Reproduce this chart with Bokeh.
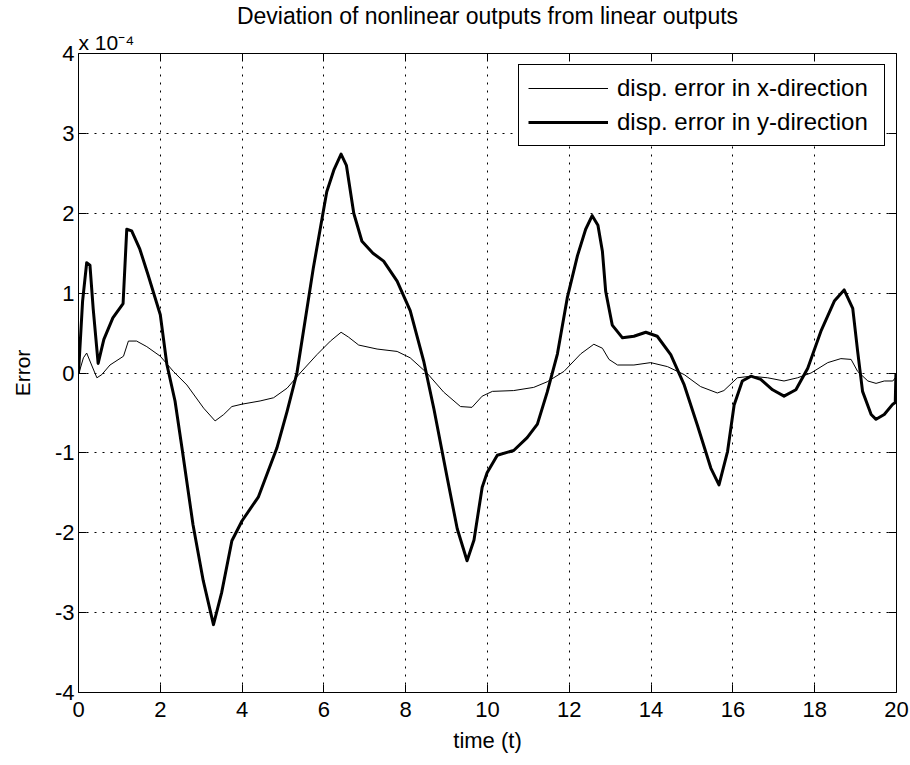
from bokeh.plotting import figure
from bokeh.models import LinearAxis, FixedTicker, Legend, LegendItem, Range1d, Title
from bokeh.embed import file_html
from bokeh.resources import INLINE

# values in units of 1e-4
t_y = [0, 0.1, 0.2, 0.28, 0.36, 0.48, 0.62, 0.84, 1.09, 1.18, 1.30, 1.50, 1.70, 2.0, 2.16, 2.36, 2.53,
       2.8, 3.05, 3.3, 3.5, 3.75, 4.0, 4.4, 4.85, 5.1, 5.34, 5.74, 6.07, 6.25, 6.42, 6.55, 6.73, 6.93,
       7.2, 7.46, 7.79, 8.11, 8.44, 8.69, 9.01, 9.26, 9.5, 9.67, 9.87, 9.99, 10.24, 10.64, 10.97, 11.22,
       11.46, 11.71, 11.95, 12.20, 12.40, 12.56, 12.70, 12.81, 12.89, 13.05, 13.30, 13.58, 13.87, 14.15,
       14.48, 14.81, 15.13, 15.46, 15.66, 15.87, 16.03, 16.23, 16.44, 16.68, 16.97, 17.25, 17.54, 17.83,
       18.15, 18.48, 18.72, 18.93, 19.05, 19.17, 19.38, 19.50, 19.70, 19.91, 19.97, 19.985, 20.0]
err_y = [0.0, 0.9, 1.38, 1.35, 0.8, 0.12, 0.42, 0.69, 0.87, 1.80, 1.78, 1.55, 1.23, 0.73, 0.11, -0.35, -0.94,
         -1.9, -2.6, -3.15, -2.75, -2.1, -1.85, -1.55, -0.94, -0.48, 0.0, 1.31, 2.27, 2.55, 2.74, 2.6, 2.0, 1.65,
         1.5, 1.40, 1.15, 0.78, 0.15, -0.45, -1.3, -1.95, -2.35, -2.09, -1.43, -1.25, -1.03, -0.97, -0.81, -0.64,
         -0.24, 0.24, 0.94, 1.47, 1.80, 1.97, 1.85, 1.52, 1.02, 0.60, 0.44, 0.46, 0.51, 0.46,
         0.23, -0.15, -0.65, -1.19, -1.40, -0.98, -0.40, -0.10, -0.04, -0.08, -0.21, -0.29, -0.21, 0.06,
         0.52, 0.90, 1.04, 0.81, 0.27, -0.23, -0.52, -0.58, -0.52, -0.39, -0.37, -0.02, -0.25]

t_x = [0, 0.12, 0.2, 0.32, 0.45, 0.57, 0.77, 1.10, 1.22, 1.42, 1.67, 2.0, 2.32, 2.65, 3.06, 3.34, 3.55, 3.75,
       4.0, 4.44, 4.77, 5.10, 5.42, 5.83, 6.16, 6.42, 6.6, 6.85, 7.30, 7.79, 8.11, 8.52, 8.93, 9.34, 9.62,
       9.87, 10.12, 10.64, 11.13, 11.46, 11.87, 12.28, 12.60, 12.81, 12.97, 13.18, 13.58, 13.99, 14.40,
       14.81, 15.21, 15.62, 15.78, 16.11, 16.44, 16.85, 17.25, 17.58, 17.91, 18.32, 18.64, 18.89, 19.05,
       19.30, 19.50, 19.70, 19.91, 20.0]
err_x = [-0.02, 0.19, 0.25, 0.10, -0.06, -0.02, 0.10, 0.21, 0.40, 0.40, 0.33, 0.21, 0.02, -0.15, -0.44, -0.60,
         -0.52, -0.42, -0.39, -0.35, -0.31, -0.19, 0.0, 0.23, 0.40, 0.51, 0.45, 0.35, 0.30, 0.27, 0.19, 0.0,
         -0.24, -0.42, -0.43, -0.29, -0.23, -0.22, -0.18, -0.11, 0.02, 0.24, 0.36, 0.31, 0.17, 0.10, 0.10,
         0.13, 0.08, -0.02, -0.17, -0.25, -0.22, -0.06, -0.04, -0.06, -0.10, -0.06, 0.0, 0.13, 0.18, 0.17,
         0.02, -0.10, -0.13, -0.10, -0.10, -0.04]

x_ticks = [0, 2, 4, 6, 8, 10, 12, 14, 16, 18, 20]
y_ticks = [-4, -3, -2, -1, 0, 1, 2, 3, 4]
y_tick_labels = {v: str(v) for v in y_ticks}
x_tick_labels = {v: str(v) for v in x_ticks}
multiplier_text = "x 10\u207b\u2074"

FONT = "Liberation Sans"

p = figure(width=910, height=765, output_backend="svg", toolbar_location=None,
           x_range=Range1d(0, 20), y_range=Range1d(-4, 4),
           min_border_left=78, min_border_right=14, min_border_top=52, min_border_bottom=73,
           title="Deviation of nonlinear outputs from linear outputs")
p.title.align = "center"
p.title.text_font = FONT
p.title.text_font_style = "normal"
p.title.text_font_size = "23px"
p.title.text_color = "#000000"
p.title.standoff = 0

p.outline_line_color = "black"
p.outline_line_width = 1
p.outline_line_alpha = 1
p.background_fill_color = "white"
p.border_fill_color = "white"

bottom = p.below[0]
left = p.left[0]
bottom.ticker = FixedTicker(ticks=x_ticks)
left.ticker = FixedTicker(ticks=y_ticks)
bottom.major_label_overrides = x_tick_labels
left.major_label_overrides = y_tick_labels

top = LinearAxis(ticker=FixedTicker(ticks=x_ticks),
                 major_label_overrides={v: "" for v in x_ticks})
right = LinearAxis(ticker=FixedTicker(ticks=y_ticks),
                   major_label_overrides={v: "" for v in y_ticks})
p.add_layout(top, "above")
p.add_layout(right, "right")

for ax in [bottom, left, top, right]:
    ax.axis_line_color = None
    ax.major_tick_in = 8
    ax.major_tick_out = 0
    ax.major_tick_line_color = "black"
    ax.minor_tick_line_color = None
    ax.major_label_text_font = FONT
    ax.major_label_text_color = "black"
    ax.axis_label_text_font = FONT
    ax.axis_label_text_font_style = "normal"
    ax.axis_label_text_color = "black"
    ax.major_label_text_font_size = "22px"

for ax in [top, right]:
    ax.major_label_standoff = 0
    ax.major_label_text_font_size = "1px"

bottom.major_label_standoff = 9
left.major_label_standoff = 4
bottom.axis_label = "time (t)"
left.axis_label = "Error"
bottom.axis_label_text_font_size = "22px"
left.axis_label_text_font_size = "21px"
bottom.axis_label_standoff = 8
left.axis_label_standoff = 18

# exponent multiplier shown above the top-left corner of the frame
mult = Title(text=multiplier_text, align="left", standoff=0, offset=0)
mult.text_font = FONT
mult.text_font_size = "21px"
mult.text_font_style = "normal"
mult.text_color = "black"
p.add_layout(mult, "above")

p.xgrid.grid_line_color = "black"
p.ygrid.grid_line_color = "black"
p.xgrid.grid_line_dash = "2 6"
p.ygrid.grid_line_dash = "2 6"
p.xgrid.grid_line_width = 1
p.ygrid.grid_line_width = 1
p.xgrid.ticker = FixedTicker(ticks=x_ticks)
p.ygrid.ticker = FixedTicker(ticks=y_ticks)

r1 = p.line(t_x, err_x, line_color="black", line_width=1)
r2 = p.line(t_y, err_y, line_color="black", line_width=3, line_join="round")

legend = Legend(items=[LegendItem(label="disp. error in x-direction", renderers=[r1]),
                       LegendItem(label="disp. error in y-direction", renderers=[r2])],
                location="top_right")
legend.label_text_font = FONT
legend.label_text_font_size = "24px"
legend.label_text_color = "black"
legend.border_line_color = "black"
legend.border_line_width = 1
legend.border_line_alpha = 1
legend.background_fill_color = "white"
legend.background_fill_alpha = 1
legend.margin = 11
legend.padding = 9
legend.spacing = 6
legend.glyph_width = 80
legend.glyph_height = 24
legend.label_standoff = 9
legend.label_height = 24
legend.label_width = 258
p.add_layout(legend)

open("out.html", "w").write(file_html(p, INLINE))
